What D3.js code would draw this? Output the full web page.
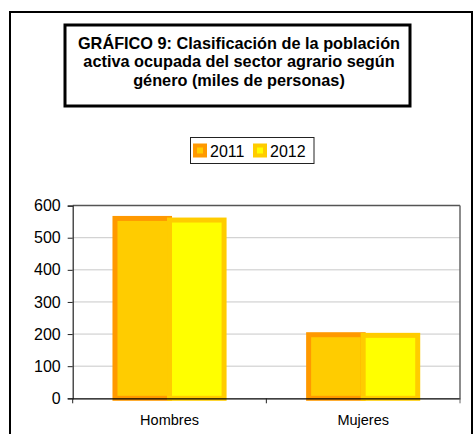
<!DOCTYPE html>
<html>
<head>
<meta charset="utf-8">
<script src="https://cdn.jsdelivr.net/npm/d3@7/dist/d3.min.js"></script>
<style>
  body { margin: 0; background: white; }
  svg { display: block; font-family: Arial, "Liberation Sans", sans-serif; }
</style>
</head>
<body>
<div id="chart"></div>
<script>
//data
var categories = ["Hombres", "Mujeres"];
var years = ["2011", "2012"];
var values2011 = [560, 198];
var values2012 = [555, 196];
var yTicks = [0, 100, 200, 300, 400, 500, 600];
var titleLines = [
    "GRÁFICO 9: Clasificación de la población",
    "activa ocupada del sector agrario según",
    "género (miles de personas)"
];
//

var width = 476,
    height = 434;

var fills = ["#ffcc00", "#ffff00"],
    strokes = ["#ff9900", "#ffcc00"];

var svg = d3.select("#chart").append("svg")
    .attr("width", width)
    .attr("height", height);

//outer frame
svg.append("rect")
    .attr("x", 10)
    .attr("y", 12)
    .attr("width", 462)
    .attr("height", 440)
    .style("fill", "white")
    .style("stroke", "black")
    .style("stroke-width", 2);

//title box
svg.append("rect")
    .attr("x", 65)
    .attr("y", 25)
    .attr("width", 345)
    .attr("height", 81)
    .style("fill", "white")
    .style("stroke", "black")
    .style("stroke-width", 3);

svg.selectAll(".title")
    .data(titleLines)
    .enter().append("text")
    .attr("class", "title")
    .attr("x", 239)
    .attr("y", function(d, i) { return 48.5 + i * 18.7; })
    .attr("text-anchor", "middle")
    .style("font-size", "16.3px")
    .style("font-weight", "bold")
    .text(function(d) { return d; });

//plot area
var plotLeft = 72.7,
    plotRight = 460,
    plotTop = 205.6,
    plotBottom = 398.3;

var y = d3.scaleLinear()
    .domain([0, 600])
    .range([plotBottom, plotTop]);

var x0 = d3.scaleBand()
    .domain(categories)
    .range([plotLeft, plotRight])
    .paddingInner(0)
    .paddingOuter(0);

var x1 = d3.scaleBand()
    .domain(years)
    .range([0, x0.bandwidth()])
    .paddingInner(0)
    .paddingOuter(0.775);

//gridlines
svg.append("g")
    .selectAll("line")
    .data(yTicks.slice(1))
    .enter().append("line")
    .attr("x1", plotLeft)
    .attr("x2", plotRight)
    .attr("y1", function(d) { return y(d); })
    .attr("y2", function(d) { return y(d); })
    .style("stroke", function(d) { return d == 600 ? "#555" : "#c8c8c8"; })
    .style("stroke-width", function(d) { return d == 600 ? 1.5 : 1; });

//right border of plot
svg.append("line")
    .attr("x1", plotRight)
    .attr("x2", plotRight)
    .attr("y1", plotTop)
    .attr("y2", plotBottom)
    .style("stroke", "#666")
    .style("stroke-width", 1.5);

//bars, 2011 first so 2012 sits on top
var series = [values2011, values2012];
series.forEach(function(vals, s) {
    svg.append("g")
        .selectAll("rect")
        .data(categories)
        .enter().append("rect")
        .attr("x", function(d) { return x0(d) + x1(years[s]); })
        .attr("y", function(d, i) { return y(vals[i]); })
        .attr("width", x1.bandwidth())
        .attr("height", function(d, i) { return plotBottom - y(vals[i]); })
        .style("fill", fills[s])
        .style("stroke", strokes[s])
        .style("stroke-width", 5);
});

//y axis
var yAxis = svg.append("g")
    .attr("transform", "translate(" + plotLeft + ",0)")
    .call(d3.axisLeft(y).tickValues(yTicks).tickSize(5).tickPadding(7));
yAxis.select(".domain").style("stroke", "#222").style("stroke-width", 1.2);
yAxis.selectAll(".tick line").style("stroke", "#222");
yAxis.selectAll("text")
    .style("font-size", "16px")
    .style("fill", "black")
    .style("font-family", "Arial, 'Liberation Sans', sans-serif");

//x axis
var xAxis = svg.append("g")
    .attr("transform", "translate(0," + plotBottom + ")")
    .call(d3.axisBottom(x0).tickSize(0).tickPadding(16));
xAxis.select(".domain").style("stroke", "black").style("stroke-width", 1.2);
xAxis.selectAll("text")
    .style("font-size", "14.5px")
    .style("fill", "black")
    .style("font-family", "Arial, 'Liberation Sans', sans-serif");

//x axis ticks at category borders
svg.append("g")
    .selectAll("line")
    .data(categories.concat(["end"]))
    .enter().append("line")
    .attr("x1", function(d) { return d == "end" ? plotRight : x0(d); })
    .attr("x2", function(d) { return d == "end" ? plotRight : x0(d); })
    .attr("y1", plotBottom)
    .attr("y2", plotBottom + 5)
    .style("stroke", function(d) { return d == "end" ? "#666" : "#222"; });

//legend
var legend = svg.append("g");
legend.append("rect")
    .attr("x", 190.5)
    .attr("y", 137.5)
    .attr("width", 123.5)
    .attr("height", 26)
    .style("fill", "white")
    .style("stroke", "#222")
    .style("stroke-width", 1);

var legendX = [195, 255];
years.forEach(function(yr, i) {
    legend.append("rect")
        .attr("x", legendX[i])
        .attr("y", 145.5)
        .attr("width", 10)
        .attr("height", 10)
        .style("fill", fills[i])
        .style("stroke", strokes[i])
        .style("stroke-width", 4);
    legend.append("text")
        .attr("x", legendX[i] + 15)
        .attr("y", 157)
        .style("font-size", "16px")
        .text(yr);
});
</script>
</body>
</html>
